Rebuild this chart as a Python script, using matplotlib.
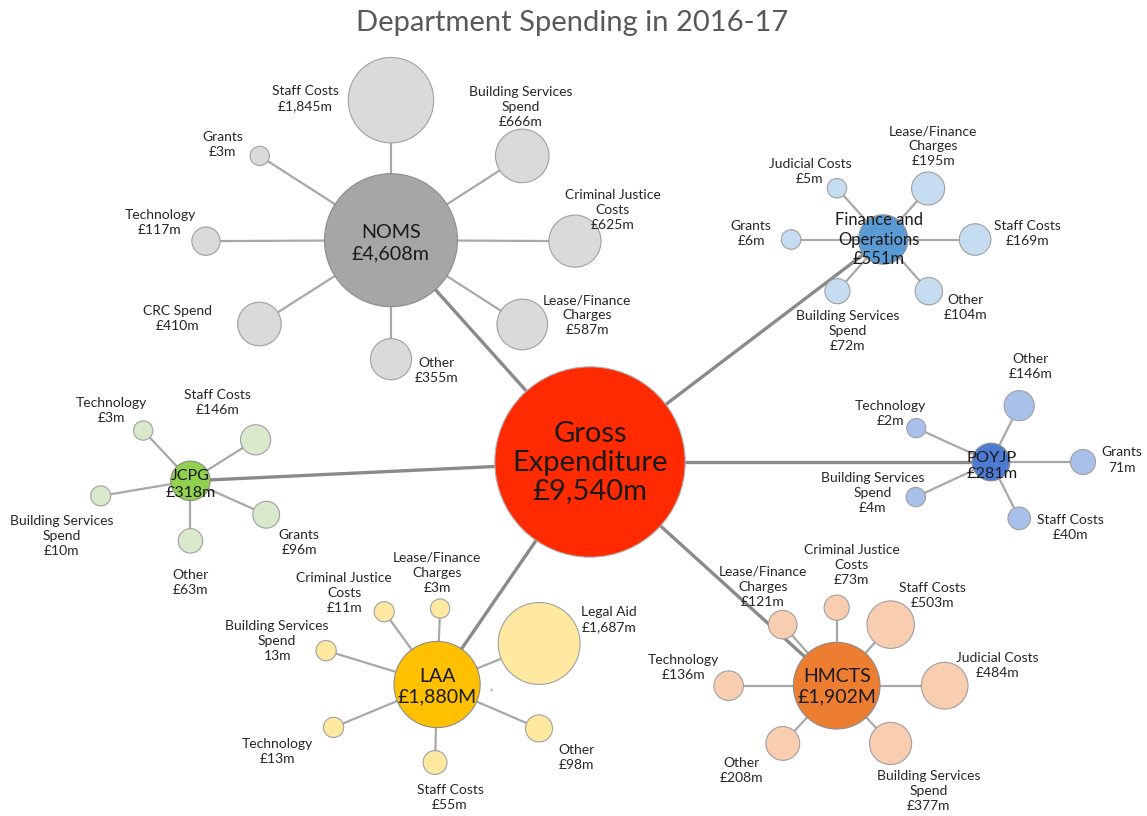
import numpy as np
import matplotlib.pyplot as plt
from matplotlib.patches import Circle

plt.rcParams['font.family'] = ['Lato', 'DejaVu Sans']

# ---- data ----
gross_name = 'Gross\nExpenditure'
gross_value = 9540

dept_names = ['NOMS', 'Finance and\nOperations', 'POYJP', 'JCPG', 'LAA', 'HMCTS']
dept_values = [4608, 551, 281, 318, 1880, 1902]
dept_units = ['m', 'm', 'm', 'm', 'M', 'M']

noms_items = ['Staff Costs', 'Grants', 'Building Services\nSpend', 'Technology',
              'Criminal Justice\nCosts', 'CRC Spend', 'Lease/Finance\nCharges', 'Other']
noms_values = [1845, 3, 666, 117, 625, 410, 587, 355]

fo_items = ['Judicial Costs', 'Lease/Finance\nCharges', 'Grants', 'Staff Costs',
            'Building Services\nSpend', 'Other']
fo_values = [5, 195, 6, 169, 72, 104]

poyjp_items = ['Other', 'Technology', 'Grants', 'Building Services\nSpend', 'Staff Costs']
poyjp_values = [146, 2, 71, 4, 40]

jcpg_items = ['Technology', 'Staff Costs', 'Building Services\nSpend', 'Grants', 'Other']
jcpg_values = [3, 146, 10, 96, 63]

laa_items = ['Criminal Justice\nCosts', 'Lease/Finance\nCharges', 'Legal Aid',
             'Building Services\nSpend', 'Technology', 'Staff Costs', 'Other']
laa_values = [11, 3, 1687, 13, 13, 55, 98]

hmcts_items = ['Criminal Justice\nCosts', 'Lease/Finance\nCharges', 'Staff Costs',
               'Technology', 'Judicial Costs', 'Other', 'Building Services\nSpend']
hmcts_values = [73, 121, 503, 136, 484, 208, 377]

# labels printed without the pound sign in the original
no_pound = [('POYJP', 'Grants'), ('LAA', 'Building Services\nSpend')]

# ---- layout (pixels, angle in degrees counter-clockwise) ----
gross_xy = (590, 462)
dept_angle = [131.9, 37.2, 0.0, 182.7, 235.5, -42.2]
dept_dist = [298, 368, 401, 400, 270, 333]
dept_label_off = [(0, 3), (-4, 0), (1, 4), (0, 4), (0, 2), (0, 1)]
dept_fsize = [14.2, 12, 11.8, 11.5, 14, 14]

noms_ang = [90, 147.3, 32.7, 180.3, -0.3, 212.5, -32.7, -90]
noms_dist = [140, 156, 156, 185, 184, 156, 156, 119]
noms_lab = [(-86, -2), (-37, -11), (-2, -49), (-46, -19), (38, -31), (-82, -6), (65, -9), (46, 11)]

fo_ang = [132, 48.6, 180, 0, 228.5, -48.5]
fo_dist = [69, 68, 92, 92, 69, 69]
fo_lab = [(-27, -17), (5, -42), (-40, -6), (52, -6), (10, 40), (37, 16)]

poyjp_ang = [63.4, 155.6, 0, 205, -63.4]
poyjp_dist = [63, 82, 92, 83, 63]
poyjp_lab = [(11, -39), (-26, -15), (39, -2), (-43, -4), (51, 9)]

jcpg_ang = [133.2, 32.2, 189.5, -24.1, -90]
jcpg_dist = [69, 77, 91, 83, 60]
jcpg_lab = [(-32, -20), (-38, -37), (-39, 40), (33, 28), (0, 42)]

laa_ang = [126, 87.7, 21.9, 163, 202.5, -91.5, -23.3]
laa_dist = [90, 76, 110, 116, 112, 78, 111]
laa_lab = [(-40, -19), (-3, -36), (70, -24), (-49, -10), (-56, 24), (15, 35), (37, 29)]

hmcts_ang = [90, 131.5, 48.5, 180, 0, 227, -47]
hmcts_dist = [78, 81.5, 81.5, 108, 108, 79, 79]
hmcts_lab = [(15, -43), (-20, -38), (42, -29), (-45, -18), (53, -20), (-41, 27), (38, 48)]

# ---- styles ----
gross_color = '#ff2a00'
dept_colors = ['#a6a6a6', '#5b9bd5', '#4d7bd4', '#92d050', '#ffc000', '#ed7d31']
child_colors = ['#dadada', '#c6ddf1', '#a9c0ea', '#d8eacb', '#ffe8a0', '#f9cdb0']

children = [
    (noms_items, noms_values, noms_ang, noms_dist, noms_lab),
    (fo_items, fo_values, fo_ang, fo_dist, fo_lab),
    (poyjp_items, poyjp_values, poyjp_ang, poyjp_dist, poyjp_lab),
    (jcpg_items, jcpg_values, jcpg_ang, jcpg_dist, jcpg_lab),
    (laa_items, laa_values, laa_ang, laa_dist, laa_lab),
    (hmcts_items, hmcts_values, hmcts_ang, hmcts_dist, hmcts_lab),
]


def radius(v):
    # bubble area grows with the value, with a minimum size
    return np.sqrt(9.5 ** 2 + 0.94 * v)


def polar(origin, ang, dist):
    a = np.radians(ang)
    return origin[0] + dist * np.cos(a), origin[1] - dist * np.sin(a)


fig = plt.figure(figsize=(11.47, 8.16), dpi=100)
ax = fig.add_axes([0, 0, 1, 1])
ax.set_xlim(0, 1147)
ax.set_ylim(816, 0)
ax.set_aspect('equal')
ax.axis('off')

ax.text(572, 23, 'Department Spending in 2016-17', ha='center', va='center',
        fontsize=21, color='#595959')

# gross bubble
ax.add_patch(Circle(gross_xy, radius(gross_value), facecolor=gross_color,
                    edgecolor='#b0b0b0', lw=0.8, zorder=4))
ax.text(gross_xy[0], gross_xy[1] + 1, f'{gross_name}\n£{gross_value:,}m', ha='center',
        va='center', fontsize=21, color='#1a1a1a', linespacing=1.12, zorder=6)

for i, name in enumerate(dept_names):
    dxy = polar(gross_xy, dept_angle[i], dept_dist[i])
    ax.plot([gross_xy[0], dxy[0]], [gross_xy[1], dxy[1]], color='#8a8a8a', lw=2.4,
            solid_capstyle='butt', zorder=1)
    items, vals, angs, dists, labs = children[i]
    for j, item in enumerate(items):
        cxy = polar(dxy, angs[j], dists[j])
        ax.plot([dxy[0], cxy[0]], [dxy[1], cxy[1]], color='#a8a8a8', lw=1.6,
                solid_capstyle='butt', zorder=1)
        ax.add_patch(Circle(cxy, radius(vals[j]), facecolor=child_colors[i],
                            edgecolor='#a0a0a0', lw=0.8, zorder=2))
        pound = '' if (name, item) in no_pound else '£'
        ax.text(cxy[0] + labs[j][0], cxy[1] + labs[j][1], f'{item}\n{pound}{vals[j]:,}m',
                ha='center', va='center', multialignment='center', fontsize=10,
                color='#262626', linespacing=1.3, zorder=6)
    ax.add_patch(Circle(dxy, radius(dept_values[i]), facecolor=dept_colors[i],
                        edgecolor='#8c8c8c', lw=0.8, zorder=3))
    off = dept_label_off[i]
    ax.text(dxy[0] + off[0], dxy[1] + off[1],
            f'{name}\n£{dept_values[i]:,}{dept_units[i]}', ha='center', va='center',
            multialignment='center', fontsize=dept_fsize[i], color='#1a1a1a',
            linespacing=1.25, zorder=6)

# small stray mark beside LAA in the original
laa_xy = polar(gross_xy, dept_angle[4], dept_dist[4])
ax.text(laa_xy[0] + 54, laa_xy[1] + 9, '*', ha='center', va='center', fontsize=8,
        color='#b0b0b0', zorder=6)

plt.savefig('out.png', dpi=100)
